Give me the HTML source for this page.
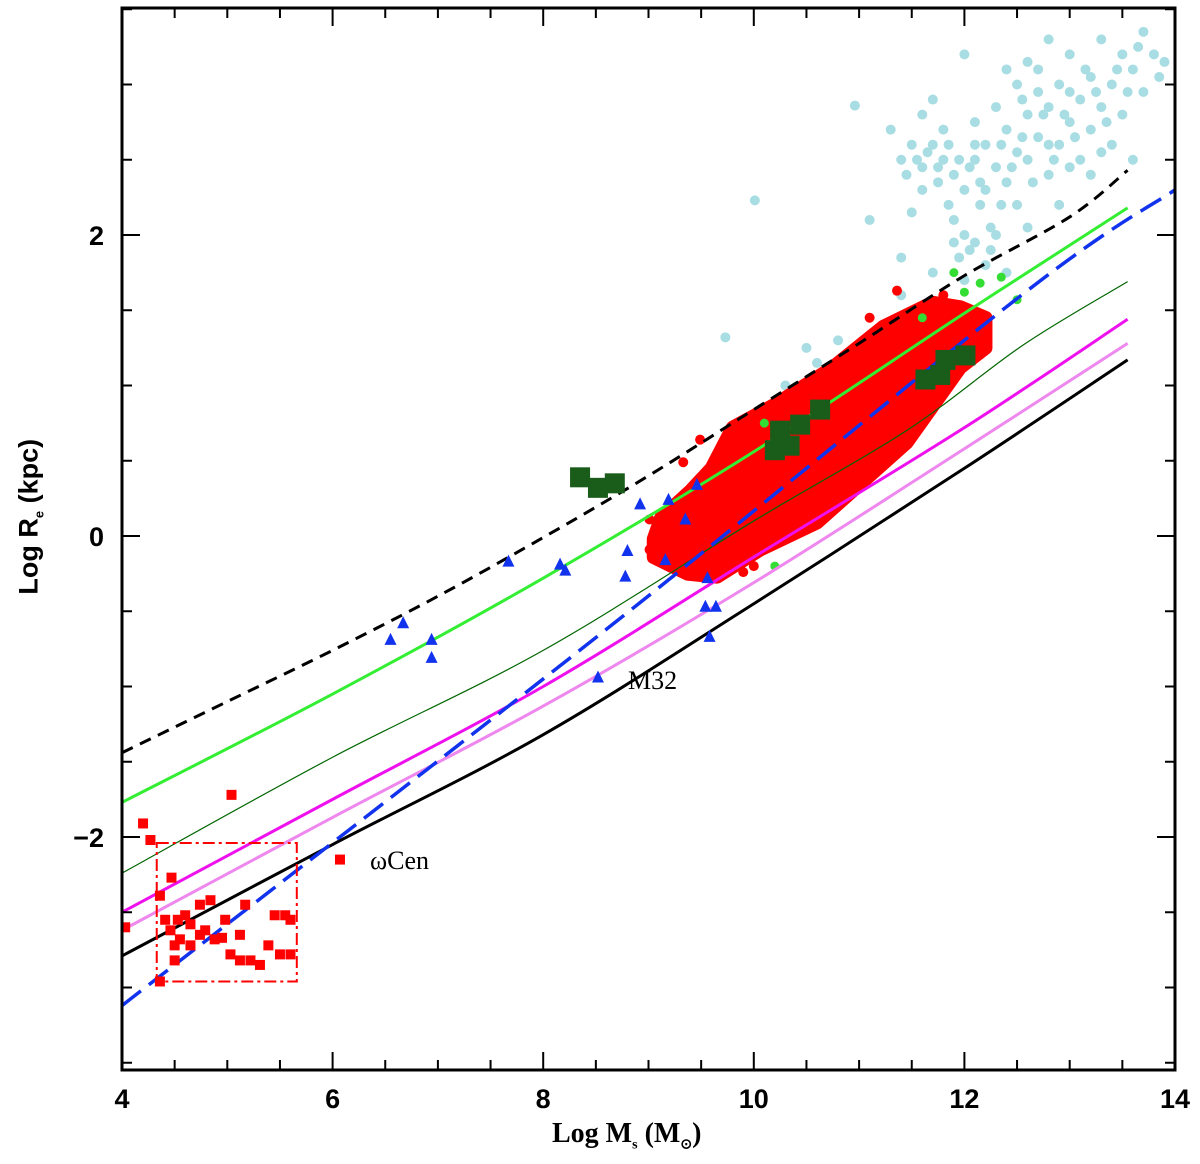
<!DOCTYPE html>
<html><head><meta charset="utf-8"><style>
html,body{margin:0;padding:0;background:#fff;width:1200px;height:1164px;overflow:hidden}
svg text{font-family:"Liberation Sans",sans-serif;font-weight:bold}
</style></head><body>
<svg id="chart" width="1200" height="1164" xmlns="http://www.w3.org/2000/svg"></svg>
<script>
const xTickLabels=[4,6,8,10,12,14];
const yTickLabels=[-2,0,2];
const blackDashed=[[4,-1.44],[5,-1.1],[6,-0.76],[7,-0.4],[8,-0.01],[9,0.4],[10,0.84],[11,1.28],[12,1.73],[13,2.12],[13.55,2.43]];
const greenThick=[[4,-1.77],[6,-1.05],[8,-0.28],[10,0.56],[12,1.48],[13.55,2.18]];
const greenThin=[[4,-2.24],[6,-1.47],[8,-0.76],[10,0.1],[11.45,0.70],[12.56,1.27],[13.55,1.69]];
const magentaLine=[[4,-2.5],[6,-1.75],[8,-1.0],[10,-0.14],[12,0.72],[13.55,1.44]];
const violetLine=[[4,-2.62],[6,-1.87],[8,-1.13],[10,-0.31],[12,0.58],[13.55,1.28]];
const blackSolid=[[4,-2.79],[6,-2.05],[8,-1.32],[10,-0.45],[12,0.45],[13.55,1.17]];
const blueDashed=[[4,-3.12],[8.6,-0.62],[12.56,1.61],[14,2.3]];
const redBox=[4.33,5.66,-2.04,-2.96];
const blueTriangles=[[6.55,-0.69],[6.67,-0.58],[6.94,-0.69],[6.94,-0.81],[7.67,-0.17],[8.16,-0.19],[8.21,-0.23],[8.78,-0.27],[8.80,-0.10],[8.92,0.21],[9.19,0.24],[9.35,0.11],[9.46,0.34],[9.16,-0.16],[8.52,-0.94],[9.56,-0.28],[9.54,-0.47],[9.64,-0.47],[9.58,-0.67]];
const darkGreenSquares=[[8.35,0.39],[8.52,0.32],[8.68,0.35],[10.25,0.70],[10.44,0.74],[10.34,0.60],[10.20,0.57],[11.63,1.04],[11.82,1.17],[12.01,1.20],[10.63,0.84],[11.77,1.07]];
const redSquares=[[4.03,-2.60],[4.20,-1.91],[4.27,-2.02],[5.04,-1.72],[6.07,-2.15],[4.36,-2.39],[4.47,-2.27],[4.41,-2.55],[4.53,-2.55],[4.60,-2.52],[4.65,-2.58],[4.74,-2.45],[4.79,-2.62],[4.84,-2.42],[4.88,-2.68],[4.95,-2.67],[4.55,-2.68],[4.50,-2.72],[4.36,-2.96],[4.98,-2.55],[5.12,-2.65],[5.03,-2.78],[5.12,-2.82],[5.22,-2.82],[5.31,-2.85],[5.39,-2.72],[5.45,-2.52],[5.55,-2.52],[5.60,-2.55],[5.60,-2.78],[5.50,-2.78],[5.17,-2.45],[4.74,-2.65],[4.65,-2.72],[4.46,-2.62],[4.50,-2.82]];
const lightBlueDots=[[11.4,2.5],[11.5,2.6],[11.6,2.3],[11.7,2.9],[11.8,2.5],[11.9,2.1],[11.5,2.15],[11.6,2.45],[11.8,2.7],[11.9,2.4],[12.0,2.3],[12.1,2.5],[12.0,2.0],[12.1,1.95],[12.2,2.6],[12.2,2.3],[12.3,2.45],[12.3,2.0],[12.4,2.7],[12.4,2.35],[12.5,2.55],[12.5,2.2],[12.6,2.8],[12.6,2.5],[12.7,2.95],[12.7,2.65],[12.8,2.4],[12.8,2.85],[12.9,2.6],[12.9,3.0],[13.0,2.75],[13.0,3.2],[13.1,2.5],[13.1,2.9],[13.2,3.05],[13.2,2.7],[13.3,3.3],[13.3,2.85],[13.4,3.0],[13.4,2.6],[13.5,3.2],[13.5,2.8],[13.6,3.1],[13.7,3.35],[13.7,2.95],[13.8,3.2],[13.9,3.15],[12.0,3.2],[12.5,3.0],[12.8,3.3],[11.4,1.85],[11.7,1.75],[12.0,1.7],[12.2,1.8],[12.4,1.75],[11.9,1.95],[12.6,2.05],[12.9,2.2],[13.2,2.4],[12.3,2.85],[11.7,2.6],[12.1,2.75],[12.4,3.1],[13.0,2.45],[13.6,2.5],[12.6,3.15],[11.6,2.8],[11.3,2.7],[12.8,2.6],[13.3,2.55],[10.96,2.86],[10.01,2.23],[9.73,1.32],[10.5,1.25],[10.6,1.15],[10.8,1.3],[11.2,1.35],[11.1,2.1],[10.3,1.0],[11.4,1.6],
[11.45,2.4],[11.55,2.5],[11.65,2.55],[11.75,2.35],[11.85,2.2],[11.95,2.5],[12.05,2.45],[12.15,2.2],[12.25,2.05],[12.35,2.2],[12.45,2.45],[12.55,2.65],[12.65,2.35],[12.75,2.8],[12.85,2.5],[12.95,2.8],[13.05,2.65],[13.15,3.1],[13.25,2.95],[13.35,2.75],[13.45,3.1],[13.55,2.95],[13.65,3.25],[13.85,3.05],[11.95,1.85],[12.05,1.9],[12.25,1.9],[11.85,2.6],[12.15,2.35],[12.35,2.6],[12.55,2.9],[12.7,3.1],[13.0,2.95],[12.1,2.6],[11.75,2.45]];
const greenDots=[[11.9,1.75],[12.15,1.68],[12.35,1.72],[12.5,1.57],[11.6,1.45],[10.1,0.75],[10.2,-0.2],[12.0,1.62]];
const redCloudOutline=[[9.05,-0.02],[9.12,0.12],[9.4,0.3],[9.6,0.45],[9.80,0.72],[10.22,0.88],[10.75,1.12],[11.23,1.39],[11.70,1.55],[11.96,1.52],[12.2,1.45],[12.2,1.25],[11.96,1.12],[11.45,0.62],[10.6,0.09],[10.06,-0.09],[9.65,-0.27],[9.37,-0.25],[9.05,-0.14]];
const redCloudDots=[[11.36,1.63],[9.49,0.64],[9.33,0.49],[9.01,0.11],[9.01,-0.09],[10.0,-0.2],[9.9,-0.24],[10.9,1.2],[11.1,1.45],[9.2,-0.15],[9.6,0.45],[10.4,0.95],[11.8,1.6]];

const X=v=>122+(v-4)*105.3, Y=v=>536-v*150.5;
const svg=document.getElementById('chart'), NS='http://www.w3.org/2000/svg';
function mk(tag,attrs,parent){const e=document.createElementNS(NS,tag);for(const k in attrs)e.setAttribute(k,attrs[k]);(parent||svg).appendChild(e);return e;}
const clip=mk('clipPath',{id:'pc'});mk('rect',{x:122,y:8,width:1053,height:1062},clip);
const plot=mk('g',{'clip-path':'url(#pc)'});



lightBlueDots.forEach(p=>{const c=mk('circle',{cx:X(p[0]),cy:Y(p[1]),r:5,fill:'#a8dde3'},plot);

});

const cloud=mk('polygon',{points:redCloudOutline.map(p=>X(p[0])+','+Y(p[1])).join(' '),fill:'#ff0000',stroke:'#ff0000','stroke-width':14,'stroke-linejoin':'round'},plot);


redCloudDots.forEach(p=>{const c=mk('circle',{cx:X(p[0]),cy:Y(p[1]),r:5,fill:'#ff0000'},plot);

});
greenDots.forEach(p=>{const c=mk('circle',{cx:X(p[0]),cy:Y(p[1]),r:4.5,fill:'#33dd33'},plot);

});

function smoothPath(arr){const pts=arr.map(p=>[X(p[0]),Y(p[1])]);let d='M'+pts[0][0]+','+pts[0][1];
for(let i=0;i<pts.length-1;i++){const p0=pts[i-1]||pts[i],p1=pts[i],p2=pts[i+1],p3=pts[i+2]||p2;
d+=` C${p1[0]+(p2[0]-p0[0])/6},${p1[1]+(p2[1]-p0[1])/6} ${p2[0]-(p3[0]-p1[0])/6},${p2[1]-(p3[1]-p1[1])/6} ${p2[0]},${p2[1]}`;}return d;}
function line(arr,style,name){const pl=mk('path',Object.assign({d:smoothPath(arr),fill:'none'},style),plot);

}
line(blackDashed,{stroke:'#000','stroke-width':3,'stroke-dasharray':'12,8'},'black-dashed-line');
line(greenThick,{stroke:'#33ee33','stroke-width':3},'green-thick-line');
line(greenThin,{stroke:'#006600','stroke-width':1.2},'green-thin-line');
line(magentaLine,{stroke:'#ee11ee','stroke-width':3},'magenta-line');
line(violetLine,{stroke:'#ee88ee','stroke-width':3},'violet-line');
line(blackSolid,{stroke:'#000','stroke-width':3},'black-solid-line');
line(blueDashed,{stroke:'#1133ee','stroke-width':3.5,'stroke-dasharray':'24,10'},'blue-dashed-line');

darkGreenSquares.forEach(p=>{const r=mk('rect',{x:X(p[0])-10,y:Y(p[1])-10,width:20,height:20,fill:'#1a5c1a'},plot);

});
blueTriangles.forEach(p=>{const x=X(p[0]),y=Y(p[1]);const t=mk('polygon',{points:`${x},${y-7} ${x-6},${y+5} ${x+6},${y+5}`,fill:'#1133ee'},plot);

});
redSquares.forEach(p=>{const r=mk('rect',{x:X(p[0])-5,y:Y(p[1])-5,width:10,height:10,fill:'#ff0000'},plot);

});
const box=mk('rect',{x:X(redBox[0]),y:Y(redBox[2]),width:X(redBox[1])-X(redBox[0]),height:Y(redBox[3])-Y(redBox[2]),fill:'none',stroke:'#ff0000','stroke-width':2,'stroke-dasharray':'12,4,3,4'},plot);



for(let v=4;v<=14.001;v+=0.5){const big=Math.abs(v-Math.round(v/2)*2)<0.01;const L=big?18:10;
mk('line',{x1:X(v),x2:X(v),y1:1070,y2:1070-L,stroke:'#000','stroke-width':2});
mk('line',{x1:X(v),x2:X(v),y1:8,y2:8+L,stroke:'#000','stroke-width':2});}
for(let v=-3.5;v<=3.5;v+=0.5){const y=Y(v);if(y<8||y>1070)continue;const big=Math.abs(v-Math.round(v/2)*2)<0.01;const L=big?18:10;
mk('line',{x1:122,x2:122+L,y1:y,y2:y,stroke:'#000','stroke-width':2});
mk('line',{x1:1175,x2:1175-L,y1:y,y2:y,stroke:'#000','stroke-width':2});}
xTickLabels.forEach(v=>{const t=mk('text',{x:X(v),y:1108,'font-size':27,'text-anchor':'middle'});t.textContent=v;

});
yTickLabels.forEach(v=>{const t=mk('text',{x:104,y:Y(v)+10,'font-size':27,'text-anchor':'end'});t.textContent=v===-2?'\u22122':v;

});
const fr=mk('rect',{x:122,y:8,width:1053,height:1062,fill:'none',stroke:'#000','stroke-width':3});


</script>
<div style="position:absolute;left:552px;top:1118px;font:bold 28px 'Liberation Serif',serif">Log M<sub style="font-size:14px">s</sub> (M<sub style="font-size:14px">⊙</sub>)</div>
<div style="position:absolute;left:-50px;top:500px;width:160px;text-align:center;transform:rotate(-90deg);font:bold 27px 'Liberation Sans',sans-serif;white-space:nowrap">Log R<sub style="font-size:13px">e</sub> (kpc)</div>
<div style="position:absolute;left:628px;top:666px;font:26px 'Liberation Serif',serif">M32</div>
<div style="position:absolute;left:370px;top:846px;font:26px 'Liberation Serif',serif">ωCen</div>
</body></html>
